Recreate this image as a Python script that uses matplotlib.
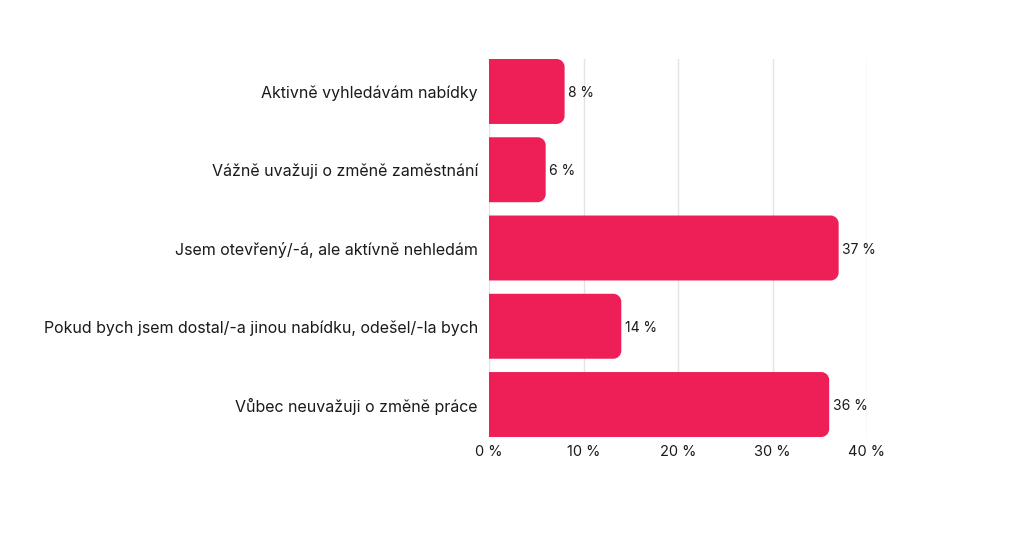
import matplotlib
matplotlib.use('Agg')
import matplotlib.pyplot as plt
from matplotlib.path import Path
from matplotlib.patches import PathPatch

plt.rcParams['font.family'] = ['Inter', 'DejaVu Sans']

# data
categories = ['Aktivně vyhledávám nabídky',
              'Vážně uvažuji o změně zaměstnání',
              'Jsem otevřený/-á, ale aktívně nehledám',
              'Pokud bych jsem dostal/-a jinou nabídku, odešel/-la bych',
              'Vůbec neuvažuji o změně práce']
values = [8, 6, 37, 14, 36]
xticks = [0, 10, 20, 30, 40]
xticklabels = ['0 %', '10 %', '20 %', '30 %', '40 %']

bar_color = '#EE1F57'
bar_h = 0.83

fig = plt.figure(figsize=(10.19, 5.39), dpi=100)
ax = fig.add_axes([489 / 1019, 1 - 437 / 539, (867 - 489) / 1019, (437 - 59) / 539])
ax.set_xlim(0, 40)
ax.set_ylim(4 + bar_h / 2, -bar_h / 2)

# corner radius in pixels -> data units
rad_px = 8
rx = rad_px * 40 / (867 - 489)
ry = rad_px * (4 + bar_h) / (437 - 59)
k = 0.5523


def rounded_bar(y, w):
    y0, y1 = y - bar_h / 2, y + bar_h / 2
    verts = [(0, y0), (w - rx, y0),
             (w - rx + k * rx, y0), (w, y0 + ry - k * ry), (w, y0 + ry),
             (w, y1 - ry),
             (w, y1 - ry + k * ry), (w - rx + k * rx, y1), (w - rx, y1),
             (0, y1), (0, y0)]
    codes = [Path.MOVETO, Path.LINETO,
             Path.CURVE4, Path.CURVE4, Path.CURVE4,
             Path.LINETO,
             Path.CURVE4, Path.CURVE4, Path.CURVE4,
             Path.LINETO, Path.CLOSEPOLY]
    return PathPatch(Path(verts, codes), facecolor=bar_color, edgecolor='none', zorder=2)


for i, v in enumerate(values):
    ax.add_patch(rounded_bar(i, v))
    ax.text(v + 0.4, i + 0.02, f'{v} %', va='center', ha='left', fontsize=10, color='#1a1a1a')

ax.set_yticks(range(len(categories)))
ax.set_yticklabels(categories, fontsize=11.5, color='#1a1a1a')
ax.set_xticks(xticks)
ax.set_xticklabels(xticklabels, fontsize=10.5, color='#1a1a1a')
ax.tick_params(axis='y', length=0, pad=8)
ax.tick_params(axis='x', length=0, pad=6)
ax.grid(axis='x', color='#e4e4e4', linewidth=1, zorder=0)
ax.set_axisbelow(True)
for s in ax.spines.values():
    s.set_visible(False)

fig.savefig('out.png', dpi=100)
